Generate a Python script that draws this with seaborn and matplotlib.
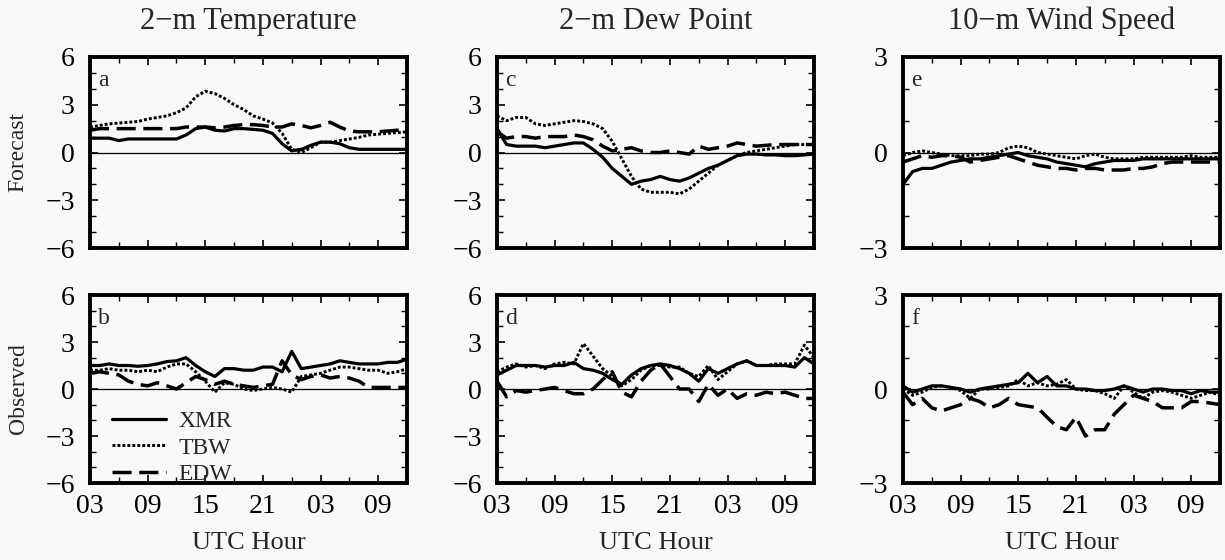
import numpy as np
import pandas as pd
import matplotlib
matplotlib.use("Agg")
import matplotlib.pyplot as plt
from matplotlib.ticker import MultipleLocator, FixedLocator
import seaborn as sns

# ---------------- data ----------------
hours = list(range(3, 37))
hour_ticks = [3, 9, 15, 21, 27, 33]
hour_labels = ["03", "09", "15", "21", "03", "09"]
models = ["XMR", "TBW", "EDW"]
col_titles = ["2\u2212m Temperature", "2\u2212m Dew Point", "10\u2212m Wind Speed"]
row_labels = ["Forecast", "Observed"]
panel_letters = [["a", "c", "e"], ["b", "d", "f"]]

# (a) forecast 2-m temperature
a_xmr = [0.9, 0.9, 0.9, 0.75, 0.85, 0.85, 0.85, 0.85, 0.85, 0.85, 1.1, 1.5, 1.6, 1.4, 1.35, 1.5, 1.5,
         1.45, 1.4, 1.2, 0.55, 0.1, 0.2, 0.45, 0.65, 0.65, 0.55, 0.3, 0.2, 0.2, 0.2, 0.2, 0.2, 0.2]
a_tbw = [1.6, 1.7, 1.8, 1.85, 1.9, 1.95, 2.1, 2.2, 2.3, 2.5, 2.8, 3.5, 3.85, 3.7, 3.4, 3.0, 2.7,
         2.3, 2.1, 1.85, 1.2, 0.2, 0.0, 0.3, 0.65, 0.65, 0.75, 0.85, 0.95, 1.1, 1.15, 1.2, 1.25, 1.3]
a_edw = [1.4, 1.5, 1.5, 1.5, 1.5, 1.5, 1.5, 1.5, 1.5, 1.5, 1.6, 1.6, 1.6, 1.55, 1.6, 1.7, 1.75,
         1.75, 1.7, 1.6, 1.6, 1.8, 1.7, 1.55, 1.7, 1.9, 1.6, 1.35, 1.3, 1.3, 1.3, 1.35, 1.4, 1.4]

# (b) observed 2-m temperature
b_xmr = [1.5, 1.5, 1.6, 1.5, 1.5, 1.45, 1.5, 1.6, 1.75, 1.8, 2.0, 1.5, 1.1, 0.8, 1.3, 1.3, 1.2,
         1.2, 1.4, 1.4, 1.1, 2.4, 1.3, 1.4, 1.5, 1.6, 1.8, 1.7, 1.6, 1.6, 1.6, 1.7, 1.7, 1.9]
b_tbw = [1.2, 1.2, 1.3, 1.2, 1.2, 1.1, 1.2, 1.1, 1.4, 1.6, 1.6, 1.1, 0.5, -0.2, 0.4, 0.3, 0.0,
         -0.1, 0.0, 0.1, 0.0, -0.2, 0.8, 0.9, 1.0, 1.2, 1.4, 1.4, 1.3, 1.2, 1.2, 1.0, 1.1, 1.3]
b_edw = [1.0, 1.1, 1.0, 0.9, 0.5, 0.3, 0.2, 0.4, 0.2, 0.0, 0.4, 0.8, 0.6, 0.3, 0.5, 0.3, 0.2,
         0.1, 0.2, 0.3, 1.8, 0.9, 0.6, 0.8, 0.9, 0.7, 0.8, 0.7, 0.5, 0.1, 0.1, 0.1, 0.1, 0.1]

# (c) forecast 2-m dew point
c_xmr = [1.5, 0.5, 0.4, 0.4, 0.4, 0.3, 0.4, 0.5, 0.6, 0.6, 0.2, -0.3, -1.0, -1.5, -2.0, -1.8, -1.7,
         -1.5, -1.7, -1.8, -1.6, -1.3, -1.0, -0.8, -0.5, -0.2, -0.1, -0.1, -0.15, -0.15, -0.2, -0.2, -0.15, -0.1]
c_tbw = [2.3, 2.0, 2.2, 2.2, 1.8, 1.7, 1.8, 1.9, 2.0, 1.95, 1.8, 1.5, 0.7, -0.4, -1.5, -2.3, -2.5,
         -2.5, -2.5, -2.6, -2.3, -1.8, -1.3, -0.8, -0.5, -0.2, 0.0, 0.1, 0.2, 0.3, 0.4, 0.5, 0.5, 0.5]
c_edw = [1.3, 0.9, 1.0, 1.0, 0.9, 1.0, 1.0, 1.0, 1.1, 1.0, 0.8, 0.4, 0.1, 0.2, 0.3, 0.1, 0.0,
         0.0, 0.1, 0.0, -0.1, 0.4, 0.2, 0.3, 0.4, 0.6, 0.5, 0.4, 0.45, 0.5, 0.5, 0.5, 0.5, 0.5]

# (d) observed 2-m dew point
d_xmr = [0.9, 1.2, 1.5, 1.5, 1.5, 1.4, 1.5, 1.5, 1.7, 1.3, 1.2, 1.0, 0.6, 0.3, 0.9, 1.3, 1.5,
         1.6, 1.5, 1.3, 1.0, 0.5, 1.3, 1.0, 1.3, 1.6, 1.8, 1.5, 1.5, 1.5, 1.5, 1.4, 2.0, 1.6]
d_tbw = [1.1, 1.4, 1.6, 1.4, 1.5, 1.3, 1.6, 1.7, 1.6, 2.9, 2.1, 1.3, 0.8, 0.2, 0.6, 1.2, 1.5,
         1.5, 1.4, 1.4, 1.0, 0.8, 1.5, 0.6, 1.1, 1.6, 1.8, 1.5, 1.5, 1.6, 1.6, 1.6, 2.8, 2.0]
d_edw = [0.5, -0.5, -0.1, -0.2, -0.1, 0.0, 0.1, -0.1, -0.3, -0.3, 0.0, 0.6, 1.1, -0.2, -0.5, 0.5, 1.2,
         1.6, 0.8, 0.0, 0.0, -0.8, 0.3, -0.4, 0.0, -0.6, -0.3, -0.4, -0.2, -0.3, -0.2, -0.4, -0.6, -0.6]

# (e) forecast 10-m wind speed
e_xmr = [-1.0, -0.6, -0.5, -0.5, -0.4, -0.3, -0.25, -0.2, -0.2, -0.15, -0.1, -0.05, 0.0, -0.1, -0.15, -0.2, -0.3,
         -0.35, -0.4, -0.45, -0.35, -0.3, -0.25, -0.25, -0.25, -0.2, -0.2, -0.2, -0.2, -0.2, -0.2, -0.2, -0.2, -0.2]
e_tbw = [-0.1, 0.0, 0.05, 0.0, -0.05, -0.1, -0.1, -0.1, -0.05, -0.05, 0.0, 0.15, 0.2, 0.15, 0.0, -0.05, -0.1,
         -0.15, -0.2, -0.1, -0.05, -0.15, -0.2, -0.2, -0.2, -0.15, -0.15, -0.15, -0.15, -0.15, -0.1, -0.15, -0.15, -0.15]
e_edw = [-0.3, -0.2, -0.1, -0.15, -0.1, -0.1, -0.15, -0.3, -0.25, -0.2, -0.15, -0.1, -0.2, -0.3, -0.4, -0.45, -0.5,
         -0.5, -0.55, -0.5, -0.5, -0.55, -0.55, -0.55, -0.5, -0.5, -0.45, -0.35, -0.3, -0.3, -0.3, -0.3, -0.3, -0.3]

# (f) observed 10-m wind speed
f_xmr = [0.1, -0.1, 0.0, 0.1, 0.1, 0.05, 0.0, -0.1, 0.0, 0.05, 0.1, 0.15, 0.2, 0.5, 0.2, 0.4, 0.1,
         0.1, 0.0, 0.0, -0.05, -0.05, 0.0, 0.1, 0.0, -0.1, 0.0, 0.0, -0.05, -0.05, -0.15, -0.05, -0.1, -0.1]
f_tbw = [0.0, -0.2, -0.1, 0.05, 0.1, 0.05, -0.05, -0.3, 0.0, 0.0, 0.05, 0.1, 0.3, 0.1, 0.2, 0.1, 0.15,
         0.3, 0.0, -0.05, -0.05, -0.15, -0.3, 0.1, -0.1, -0.3, -0.1, -0.05, -0.1, -0.2, -0.3, -0.2, -0.1, -0.2]
f_edw = [-0.1, -0.5, -0.3, -0.6, -0.7, -0.6, -0.5, -0.3, -0.4, -0.6, -0.5, -0.3, -0.5, -0.55, -0.6, -0.9, -1.2,
         -1.3, -0.9, -1.5, -1.3, -1.3, -0.8, -0.5, -0.2, -0.3, -0.4, -0.6, -0.6, -0.6, -0.4, -0.4, -0.45, -0.5]

panels = [
    [(a_xmr, a_tbw, a_edw), (c_xmr, c_tbw, c_edw), (e_xmr, e_tbw, e_edw)],
    [(b_xmr, b_tbw, b_edw), (d_xmr, d_tbw, d_edw), (f_xmr, f_tbw, f_edw)],
]
ylims = [6, 6, 3]

# ---------------- style ----------------
sns.set_theme(style="ticks")
plt.rcParams['font.family'] = ['Liberation Serif', 'DejaVu Serif']
bg = '#f8f8f8'

fig = plt.figure(figsize=(12.25, 5.6), dpi=100, facecolor=bg)
W, H = 1225.0, 560.0
col_left = [90, 497, 903]
col_width = 317
row_top = [57, 295]
row_height = [191, 188]

dashes = {"XMR": "", "TBW": (1.0, 0.7), "EDW": (5.5, 2.2)}
lws = {"XMR": 2.3, "TBW": 2.1, "EDW": 2.5}

for r in range(2):
    for c in range(3):
        x0 = col_left[c] / W
        y0 = 1 - (row_top[r] + row_height[r]) / H
        ax = fig.add_axes([x0, y0, col_width / W, row_height[r] / H])
        ax.set_facecolor(bg)
        series = panels[r][c]
        df = pd.DataFrame({
            "hour": hours * 3,
            "value": list(series[0]) + list(series[1]) + list(series[2]),
            "model": [m for m in models for _ in hours],
        })
        ax.axhline(0, color='black', lw=0.9, zorder=1)
        for m in models:
            sub = df[df["model"] == m]
            sns.lineplot(data=sub, x="hour", y="value", ax=ax, color='black',
                         lw=lws[m], label=m, legend=False,
                         dashes=False, zorder=3)
            line = ax.lines[-1]
            if dashes[m]:
                line.set_dashes(dashes[m])
        yl = ylims[c]
        ax.set_xlim(3, 36)
        ax.set_ylim(-yl, yl)
        ax.xaxis.set_major_locator(FixedLocator(hour_ticks))
        ax.xaxis.set_minor_locator(MultipleLocator(3))
        ax.yaxis.set_minor_locator(MultipleLocator(1))
        ax.tick_params(which='both', direction='in', top=True, right=True,
                       colors='black', labelsize=20)
        ax.tick_params(axis='x', which='major', pad=8)
        ax.tick_params(axis='y', which='major', pad=11)
        ax.tick_params(which='major', length=6, width=1.2)
        ax.tick_params(which='minor', length=4, width=1.0)
        yt = [-yl, 0, yl] if yl == 3 else [-6, -3, 0, 3, 6]
        ax.set_yticks(yt)
        ax.set_yticklabels([("\u2212" if v < 0 else "") + str(abs(v)) for v in yt])
        if r == 1:
            ax.set_xticklabels(hour_labels)
            ax.set_xlabel("UTC Hour", fontsize=19, labelpad=9)
        else:
            ax.set_xticklabels([])
            ax.set_xlabel("")
            ax.set_title(col_titles[c], fontsize=22, pad=20)
        if c == 0:
            ax.set_ylabel(row_labels[r], fontsize=17, labelpad=12)
        else:
            ax.set_ylabel("")
        for s in ax.spines.values():
            s.set_linewidth(2.8)
            s.set_color('black')
        ax.text(0.025, 0.93, panel_letters[r][c], transform=ax.transAxes,
                ha='left', va='top', fontsize=17)
        if r == 1 and c == 0:
            leg = ax.legend(loc='lower left', bbox_to_anchor=(0.04, -0.06),
                            frameon=False, fontsize=17, handlelength=2.3,
                            labelspacing=0.2, handletextpad=0.5,
                            borderaxespad=0.0)

fig.savefig("out.png", dpi=100, facecolor=bg)
